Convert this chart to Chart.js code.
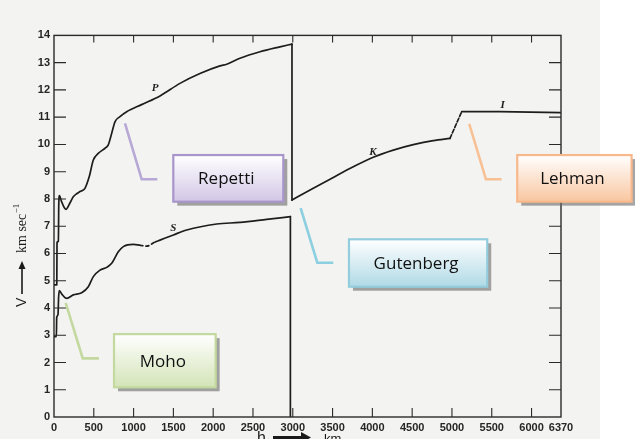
<!DOCTYPE html>
<html>
<head>
<meta charset="utf-8">
<script src="https://cdn.jsdelivr.net/npm/chart.js@4.4.1/dist/chart.umd.min.js"></script>
<style>
  html, body { margin: 0; padding: 0; background: #ffffff; }
  canvas { display: block; }
</style>
</head>
<body>
<canvas id="c" width="635" height="439"></canvas>
<script>
// Seismic wave velocity V (km/s) against depth h (km)

const xTickValues = [0, 500, 1000, 1500, 2000, 2500, 3000, 3500, 4000, 4500, 5000, 5500, 6000, 6370];
const yTickValues = [0, 1, 2, 3, 4, 5, 6, 7, 8, 9, 10, 11, 12, 13, 14];

// P waves through crust and mantle
const pDepth = [0, 35, 38, 55, 60, 68, 95, 150, 200, 242, 290, 327, 389, 443, 494, 556, 641, 682, 725, 766, 829, 913, 1100, 1332, 1583, 1834, 2085, 2170, 2337, 2588, 2839, 2990];
const pVel   = [4.85, 4.85, 6.4, 6.45, 7.8, 8.12, 7.9, 7.62, 7.85, 8.08, 8.2, 8.27, 8.39, 8.82, 9.43, 9.67, 9.86, 9.98, 10.41, 10.83, 11.02, 11.2, 11.46, 11.78, 12.24, 12.6, 12.88, 12.94, 13.16, 13.4, 13.58, 13.68];

// S waves through crust and mantle
const sDepth = [0, 30, 34, 50, 58, 67, 100, 160, 242, 348, 431, 494, 578, 662, 725, 808, 871, 996, 1080, 1164, 1270, 1332, 1500, 1667, 2044, 2337, 2672, 2970];
const sVel   = [2.95, 2.95, 3.65, 3.75, 4.4, 4.64, 4.5, 4.35, 4.48, 4.56, 4.78, 5.15, 5.39, 5.49, 5.64, 6.06, 6.25, 6.33, 6.30, 6.27, 6.42, 6.49, 6.68, 6.86, 7.08, 7.14, 7.25, 7.35];
const sDashFrom = 1080, sDashTo = 1270;

// K: P waves in the outer core
const kDepth = [2990, 3258, 3509, 3760, 4011, 4263, 4514, 4765, 4975];
const kVel   = [7.96, 8.39, 8.79, 9.18, 9.53, 9.79, 9.99, 10.14, 10.22];

// transition zone and I: inner core
const tDepth = [4975, 5122];
const tVel   = [10.22, 11.2];
const iDepth = [5122, 5600, 6370];
const iVel   = [11.2, 11.2, 11.17];

// drops at the core-mantle boundary
const pDropDepth = [2990, 2990];
const pDropVel   = [13.68, 7.96];
const sDropDepth = [2970, 2970];
const sDropVel   = [7.35, 0];

// curve letters
const curveLabels = [
  { text: 'P', x: 1269, y: 12.06 },
  { text: 'S', x: 1499, y: 6.92 },
  { text: 'K', x: 4008, y: 9.72 },
  { text: 'I', x: 5637, y: 11.45 }
];

// named discontinuities: leader line and box, in data units
const callouts = [
  { text: 'Repetti',   edge: '#a895cb', fill: '#d2c6e5', lead: '#b8a8d6',
    line: [[892, 10.77], [1102, 8.72], [1298, 8.72]], box: [1499, 2881, 9.61, 7.90] },
  { text: 'Lehman',    edge: '#f7b98c', fill: '#f9c6a0', lead: '#f8c195',
    line: [[5217, 10.75], [5427, 8.72], [5624, 8.72]], box: [5820, 7257, 9.61, 7.90] },
  { text: 'Gutenberg', edge: '#93cddd', fill: '#b0dae6', lead: '#8ccfe0',
    line: [[3099, 7.66], [3308, 5.66], [3509, 5.66]], box: [3706, 5443, 6.52, 4.78] },
  { text: 'Moho',      edge: '#c3d99f', fill: '#d3e4b7', lead: '#c3d9a0',
    line: [[147, 4.19], [361, 2.15], [565, 2.15]], box: [754, 2031, 3.04, 1.09] }
];

const pts = (xs, ys) => xs.map((x, i) => ({ x: x, y: ys[i] }));
const INK = '#1d1d1d';
const lineBase = { showLine: true, pointRadius: 0, borderColor: INK, borderWidth: 1.7, fill: false, borderJoinStyle: 'round', borderCapStyle: 'round' };

const datasets = [
  Object.assign({}, lineBase, { label: 'P', data: pts(pDepth, pVel), cubicInterpolationMode: 'monotone' }),
  Object.assign({}, lineBase, { label: 'S', data: pts(sDepth, sVel), cubicInterpolationMode: 'monotone',
    segment: { borderDash: ctx => (ctx.p0.parsed.x >= sDashFrom && ctx.p1.parsed.x <= sDashTo) ? [3, 3] : undefined } }),
  Object.assign({}, lineBase, { label: 'K', data: pts(kDepth, kVel), cubicInterpolationMode: 'monotone' }),
  Object.assign({}, lineBase, { label: 'F', data: pts(tDepth, tVel), borderDash: [4, 2] }),
  Object.assign({}, lineBase, { label: 'I', data: pts(iDepth, iVel) }),
  Object.assign({}, lineBase, { label: 'P drop', data: pts(pDropDepth, pDropVel) }),
  Object.assign({}, lineBase, { label: 'S drop', data: pts(sDropDepth, sDropVel) })
];

// paper background
const paperPlugin = {
  id: 'paper',
  beforeDraw(chart) {
    const c = chart.ctx;
    c.save();
    c.fillStyle = '#ffffff';
    c.fillRect(0, 0, chart.width, chart.height);
    c.fillStyle = '#f3f3f1';
    c.fillRect(0, 0, 600, chart.height);
    c.restore();
  }
};

// plot frame with inward tick marks on all four sides
const framePlugin = {
  id: 'frame',
  afterDatasetsDraw(chart) {
    const c = chart.ctx, a = chart.chartArea;
    const xs = chart.scales.x, ys = chart.scales.y;
    c.save();
    c.strokeStyle = '#2a2a2a';
    c.lineWidth = 1.4;
    c.strokeRect(a.left, a.top, a.right - a.left, a.bottom - a.top);
    c.lineWidth = 1.1;
    c.beginPath();
    xTickValues.slice(1, -1).forEach(v => {
      const px = xs.getPixelForValue(v);
      c.moveTo(px, a.bottom); c.lineTo(px, a.bottom - 9);
      c.moveTo(px, a.top); c.lineTo(px, a.top + 7);
    });
    yTickValues.slice(1, -1).forEach(v => {
      const py = ys.getPixelForValue(v);
      c.moveTo(a.left, py); c.lineTo(a.left + 12, py);
      c.moveTo(a.right, py); c.lineTo(a.right - 12, py);
    });
    c.stroke();

    // curve letters
    c.fillStyle = INK;
    c.font = 'italic bold 11px "Liberation Serif"';
    c.textAlign = 'center';
    c.textBaseline = 'middle';
    curveLabels.forEach(l => c.fillText(l.text, xs.getPixelForValue(l.x), ys.getPixelForValue(l.y)));
    c.restore();
  }
};

// callout boxes with leader lines
const calloutPlugin = {
  id: 'callouts',
  afterDraw(chart) {
    const c = chart.ctx;
    const xs = chart.scales.x, ys = chart.scales.y;
    c.save();
    callouts.forEach(k => {
      c.strokeStyle = k.lead;
      c.lineWidth = 2.6;
      c.lineJoin = 'miter';
      c.beginPath();
      k.line.forEach((p, i) => {
        const px = xs.getPixelForValue(p[0]), py = ys.getPixelForValue(p[1]);
        if (i === 0) c.moveTo(px, py); else c.lineTo(px, py);
      });
      c.stroke();

      const x1 = xs.getPixelForValue(k.box[0]), x2 = xs.getPixelForValue(k.box[1]);
      const y1 = ys.getPixelForValue(k.box[2]), y2 = ys.getPixelForValue(k.box[3]);
      const w = x2 - x1, h = y2 - y1;
      c.fillStyle = 'rgba(105,105,105,0.6)';
      c.fillRect(x1 + 4, y1 + 4, w, h);
      const g = c.createLinearGradient(0, y1, 0, y2);
      g.addColorStop(0, '#ffffff');
      g.addColorStop(1, k.fill);
      c.fillStyle = g;
      c.fillRect(x1, y1, w, h);
      c.strokeStyle = k.edge;
      c.lineWidth = 2.2;
      c.strokeRect(x1, y1, w, h);

      c.fillStyle = '#111111';
      c.font = '17px "Open Sans"';
      c.textAlign = 'center';
      c.textBaseline = 'middle';
      c.fillText(k.text, x1 + w / 2 - 2, y1 + h / 2 + 1);
    });
    c.restore();
  }
};

// axis titles
const titlePlugin = {
  id: 'titles',
  afterDraw(chart) {
    const c = chart.ctx;
    c.save();
    c.fillStyle = '#1a1a1a';
    c.strokeStyle = '#1a1a1a';
    // vertical title
    c.translate(22, 250);
    c.rotate(-Math.PI / 2);
    c.textBaseline = 'middle';
    c.textAlign = 'left';
    c.font = '14px "Liberation Sans"';
    c.fillText('V', -57, 0);
    c.lineWidth = 1.6;
    c.beginPath(); c.moveTo(-44, 0); c.lineTo(-16, 0); c.stroke();
    c.beginPath(); c.moveTo(-11, 0); c.lineTo(-19, -3.5); c.lineTo(-19, 3.5); c.closePath(); c.fill();
    c.font = '14px "Liberation Serif"';
    c.fillText('km sec', -3, 0);
    const wks = c.measureText('km sec').width;
    c.font = '9px "Liberation Serif"';
    c.fillText('\u22121', -3 + wks + 0.5, -5);
    c.setTransform(1, 0, 0, 1, 0, 0);

    // horizontal title (runs off the bottom edge)
    c.font = '16px "Liberation Sans"';
    c.textAlign = 'left';
    c.textBaseline = 'alphabetic';
    c.fillText('h', 257, 443);
    c.lineWidth = 3;
    c.beginPath(); c.moveTo(273, 437.5); c.lineTo(302, 437.5); c.stroke();
    c.beginPath(); c.moveTo(311, 437.5); c.lineTo(301, 432); c.lineTo(301, 443); c.closePath(); c.fill();
    c.font = '13px "Liberation Sans"';
    c.fillText('km', 324, 443);
    c.restore();
  }
};

const tickFont = { family: '"Liberation Sans"', size: 11, weight: 'bold' };

new Chart(document.getElementById('c'), {
  type: 'scatter',
  data: { datasets: datasets },
  options: {
    responsive: false,
    devicePixelRatio: 1,
    animation: false,
    layout: { padding: { left: 0, right: 74, top: 35.4, bottom: 0 } },
    plugins: { legend: { display: false }, tooltip: { enabled: false } },
    scales: {
      x: {
        type: 'linear', min: 0, max: 6370,
        afterBuildTicks: s => { s.ticks = xTickValues.map(v => ({ value: v })); },
        afterFit: s => { s.height = 22; },
        grid: { display: false, drawTicks: false },
        border: { display: false },
        ticks: { font: tickFont, color: '#262626', padding: 4, maxRotation: 0, autoSkip: false, callback: v => String(v) }
      },
      y: {
        type: 'linear', min: 0, max: 14,
        afterBuildTicks: s => { s.ticks = yTickValues.map(v => ({ value: v })); },
        afterFit: s => { s.width = 54; },
        grid: { display: false, drawTicks: false },
        border: { display: false },
        ticks: { font: tickFont, color: '#262626', padding: 4, autoSkip: false, callback: v => String(v) }
      }
    }
  },
  plugins: [paperPlugin, framePlugin, calloutPlugin, titlePlugin]
});
</script>
</body>
</html>
